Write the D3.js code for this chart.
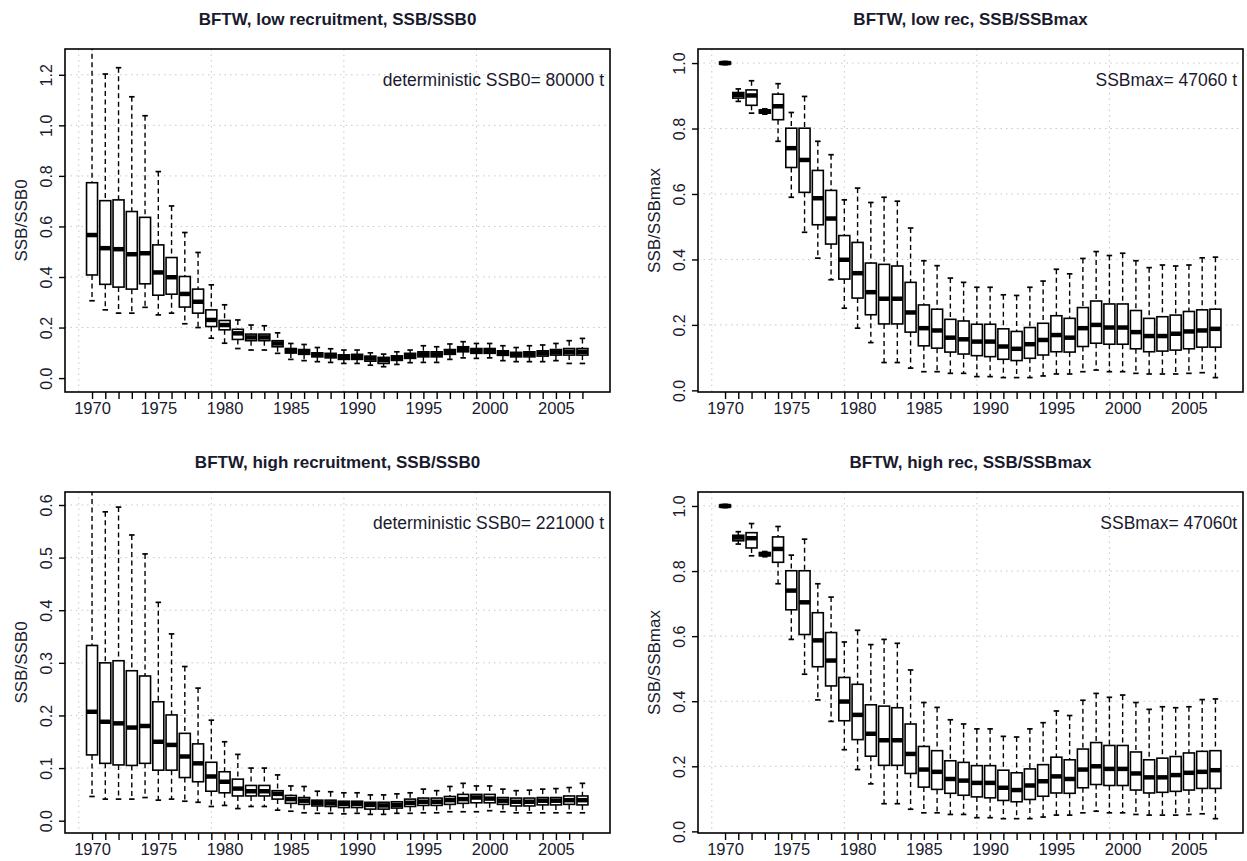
<!DOCTYPE html>
<html lang="en">
  <head>
    <meta charset="UTF-8" />
    <title>BFTW SSB boxplots</title>
    <style>
      body { margin: 0; background: #fff; }
      svg text { font-family: "Liberation Sans", Arial, sans-serif; fill: #1a1a2e; }
      .grid line { stroke: #c8c8c8; stroke-dasharray: 1.5,4; stroke-width: 1; }
      .axis path { display: none; }
      .axis line { stroke: #000; stroke-width: 1.4; }
    </style>
  </head>
  <body>
    <svg id="chart" width="1247" height="861"></svg>
  </body>
  <script src="https://cdn.jsdelivr.net/npm/d3@7"></script>
  <script>
    const years = d3.range(1970, 2008);

    // low recruitment, SSB/SSB0
    const lowB0Hi  = [1.35,1.203,1.228,1.113,1.038,0.817,0.681,0.576,0.497,0.369, 0.29,0.23,0.21,0.207,0.179,0.137,0.133,0.121,0.116,0.111, 0.111,0.1,0.095,0.104,0.111,0.128,0.124,0.135,0.144,0.137, 0.137,0.128,0.121,0.128,0.131,0.137,0.148,0.157];
    const lowB0Q3  = [0.773,0.702,0.705,0.659,0.636,0.527,0.477,0.402,0.352,0.27, 0.228,0.193,0.174,0.174,0.148,0.117,0.113,0.1,0.098,0.092, 0.094,0.087,0.082,0.088,0.098,0.104,0.104,0.113,0.124,0.117, 0.117,0.108,0.102,0.104,0.108,0.113,0.117,0.117];
    const lowB0Med = [0.566,0.514,0.51,0.49,0.494,0.418,0.399,0.333,0.302,0.23, 0.21,0.177,0.161,0.161,0.137,0.108,0.104,0.092,0.09,0.084, 0.084,0.078,0.071,0.079,0.088,0.094,0.094,0.103,0.115,0.108, 0.108,0.1,0.094,0.095,0.098,0.102,0.104,0.104];
    const lowB0Q1  = [0.408,0.371,0.36,0.352,0.373,0.328,0.332,0.281,0.257,0.204, 0.191,0.153,0.148,0.148,0.124,0.099,0.094,0.084,0.08,0.074, 0.074,0.067,0.058,0.07,0.078,0.084,0.084,0.094,0.104,0.098, 0.098,0.09,0.084,0.084,0.087,0.091,0.091,0.091];
    const lowB0Lo  = [0.306,0.27,0.257,0.257,0.28,0.25,0.257,0.215,0.2,0.158, 0.138,0.117,0.111,0.111,0.098,0.074,0.069,0.065,0.062,0.058, 0.058,0.051,0.045,0.054,0.061,0.062,0.062,0.074,0.08,0.078, 0.08,0.069,0.065,0.065,0.065,0.069,0.058,0.058];

    // SSB/SSBmax (same in low and high recruitment runs)
    const maxHi  = [1.005,0.921,0.946,0.86,0.937,0.849,0.898,0.761,0.72,0.582, 0.618,0.574,0.59,0.578,0.496,0.396,0.381,0.343,0.33,0.315, 0.315,0.292,0.29,0.315,0.334,0.37,0.356,0.403,0.424,0.412, 0.419,0.396,0.375,0.383,0.38,0.383,0.405,0.407];
    const maxQ3  = [1.003,0.91,0.918,0.857,0.905,0.801,0.801,0.672,0.611,0.473, 0.452,0.389,0.385,0.38,0.33,0.261,0.248,0.217,0.212,0.202, 0.202,0.188,0.18,0.192,0.205,0.228,0.22,0.253,0.273,0.264, 0.264,0.244,0.22,0.225,0.23,0.241,0.246,0.248];
    const maxMed = [1.0,0.903,0.901,0.852,0.868,0.74,0.704,0.587,0.525,0.399, 0.358,0.3,0.28,0.28,0.238,0.19,0.183,0.161,0.156,0.149, 0.149,0.134,0.127,0.141,0.154,0.169,0.161,0.19,0.2,0.192, 0.192,0.178,0.166,0.166,0.173,0.18,0.183,0.188];
    const maxQ1  = [0.997,0.893,0.871,0.847,0.827,0.681,0.605,0.506,0.447,0.34, 0.282,0.231,0.203,0.203,0.178,0.136,0.129,0.117,0.111,0.106, 0.103,0.095,0.091,0.098,0.108,0.118,0.117,0.134,0.144,0.141, 0.141,0.127,0.118,0.12,0.123,0.127,0.132,0.132];
    const maxLo  = [0.995,0.883,0.847,0.844,0.761,0.59,0.483,0.404,0.338,0.251, 0.19,0.146,0.085,0.085,0.068,0.057,0.057,0.052,0.052,0.042, 0.042,0.039,0.039,0.039,0.044,0.05,0.05,0.057,0.062,0.057, 0.057,0.052,0.05,0.05,0.05,0.052,0.054,0.039];

    // high recruitment, SSB/SSB0
    const highB0Hi  = [0.66,0.587,0.596,0.543,0.507,0.415,0.355,0.293,0.252,0.191, 0.15,0.126,0.1,0.1,0.087,0.066,0.065,0.056,0.055,0.053, 0.053,0.049,0.049,0.051,0.053,0.06,0.057,0.065,0.071,0.066, 0.066,0.06,0.057,0.058,0.06,0.061,0.063,0.071];
    const highB0Q3  = [0.333,0.3,0.304,0.285,0.275,0.226,0.201,0.166,0.146,0.111, 0.093,0.079,0.067,0.067,0.057,0.048,0.044,0.039,0.039,0.037, 0.037,0.035,0.035,0.036,0.041,0.043,0.043,0.046,0.05,0.05, 0.05,0.044,0.043,0.043,0.044,0.044,0.047,0.047];
    const highB0Med = [0.207,0.188,0.185,0.177,0.18,0.15,0.144,0.122,0.109,0.084, 0.074,0.061,0.056,0.056,0.051,0.041,0.038,0.034,0.033,0.032, 0.032,0.03,0.029,0.03,0.034,0.036,0.036,0.039,0.041,0.044, 0.042,0.038,0.036,0.036,0.038,0.038,0.039,0.039];
    const highB0Q1  = [0.125,0.109,0.106,0.105,0.109,0.096,0.096,0.082,0.074,0.056, 0.053,0.047,0.047,0.047,0.041,0.033,0.031,0.028,0.027,0.025, 0.025,0.022,0.022,0.024,0.027,0.029,0.029,0.031,0.033,0.034, 0.034,0.031,0.028,0.028,0.03,0.03,0.031,0.03];
    const highB0Lo  = [0.046,0.041,0.041,0.041,0.044,0.039,0.041,0.037,0.035,0.027, 0.029,0.023,0.027,0.027,0.02,0.018,0.015,0.014,0.014,0.013, 0.014,0.012,0.012,0.014,0.014,0.015,0.015,0.017,0.017,0.017, 0.019,0.017,0.015,0.015,0.015,0.015,0.015,0.015];

    const panels = [
      { title: "BFTW, low recruitment, SSB/SSB0", ylab: "SSB/SSB0", note: "deterministic SSB0= 80000 t",
        left: 65, right: 610, top: 49, bottom: 392, ydom: [-0.055, 1.302], yticks: d3.range(0, 1.21, 0.2),
        hi: lowB0Hi, q3: lowB0Q3, med: lowB0Med, q1: lowB0Q1, lo: lowB0Lo },
      { title: "BFTW, low rec, SSB/SSBmax", ylab: "SSB/SSBmax", note: "SSBmax= 47060 t",
        left: 698, right: 1243, top: 49, bottom: 392, ydom: [-0.005, 1.043], yticks: d3.range(0, 1.01, 0.2),
        hi: maxHi, q3: maxQ3, med: maxMed, q1: maxQ1, lo: maxLo },
      { title: "BFTW, high recruitment, SSB/SSB0", ylab: "SSB/SSB0", note: "deterministic SSB0= 221000 t",
        left: 65, right: 610, top: 492, bottom: 833, ydom: [-0.0234, 0.6247], yticks: d3.range(0, 0.61, 0.1),
        hi: highB0Hi, q3: highB0Q3, med: highB0Med, q1: highB0Q1, lo: highB0Lo },
      { title: "BFTW, high rec, SSB/SSBmax", ylab: "SSB/SSBmax", note: "SSBmax= 47060t",
        left: 698, right: 1243, top: 492, bottom: 833, ydom: [-0.005, 1.043], yticks: d3.range(0, 1.01, 0.2),
        hi: maxHi, q3: maxQ3, med: maxMed, q1: maxQ1, lo: maxLo }
    ];

    const svg = d3.select("#chart");

    panels.forEach((p, i) => {
      const x = d3.scaleLinear().domain([1967.96, 2009.08]).range([p.left, p.right]);
      const y = d3.scaleLinear().domain(p.ydom).range([p.bottom, p.top]);
      const bw = 11, sw = 5.5;
      const g = svg.append("g");

      g.append("clipPath").attr("id", "clip" + i)
        .append("rect").attr("x", p.left).attr("y", p.top)
        .attr("width", p.right - p.left).attr("height", p.bottom - p.top);

      // dotted grid
      const grid = g.append("g").attr("class", "grid");
      grid.selectAll(".gy").data(p.yticks.filter((v) => v > 0)).enter().append("line")
        .attr("x1", p.left).attr("x2", p.right)
        .attr("y1", (d) => y(d)).attr("y2", (d) => y(d));
      grid.selectAll(".gx").data([1969, 1979, 1989, 1999]).enter().append("line")
        .attr("y1", p.top).attr("y2", p.bottom)
        .attr("x1", (d) => x(d)).attr("x2", (d) => x(d));

      const rows = years.map((yr, k) => ({ yr, hi: p.hi[k], q3: p.q3[k], med: p.med[k], q1: p.q1[k], lo: p.lo[k] }));
      const boxes = g.append("g").attr("clip-path", "url(#clip" + i + ")")
        .selectAll("g").data(rows).enter().append("g");

      // whiskers
      boxes.append("line")
        .attr("x1", (d) => x(d.yr)).attr("x2", (d) => x(d.yr))
        .attr("y1", (d) => y(d.hi)).attr("y2", (d) => y(d.q3))
        .attr("stroke", "#000").attr("stroke-width", 1.4).attr("stroke-dasharray", "5,3.5");
      boxes.append("line")
        .attr("x1", (d) => x(d.yr)).attr("x2", (d) => x(d.yr))
        .attr("y1", (d) => y(d.q1)).attr("y2", (d) => y(d.lo))
        .attr("stroke", "#000").attr("stroke-width", 1.4).attr("stroke-dasharray", "5,3.5");
      // staples
      ["hi", "lo"].forEach((k) => {
        boxes.append("line")
          .attr("x1", (d) => x(d.yr) - sw / 2).attr("x2", (d) => x(d.yr) + sw / 2)
          .attr("y1", (d) => y(d[k])).attr("y2", (d) => y(d[k]))
          .attr("stroke", "#000").attr("stroke-width", 1.7);
      });
      // box
      boxes.append("rect")
        .attr("x", (d) => x(d.yr) - bw / 2).attr("width", bw)
        .attr("y", (d) => y(d.q3)).attr("height", (d) => y(d.q1) - y(d.q3))
        .attr("fill", "#fff").attr("stroke", "#000").attr("stroke-width", 1.6);
      // median
      boxes.append("line")
        .attr("x1", (d) => x(d.yr) - bw / 2).attr("x2", (d) => x(d.yr) + bw / 2)
        .attr("y1", (d) => y(d.med)).attr("y2", (d) => y(d.med))
        .attr("stroke", "#000").attr("stroke-width", 4.5);

      // frame
      g.append("rect").attr("x", p.left).attr("y", p.top)
        .attr("width", p.right - p.left).attr("height", p.bottom - p.top)
        .attr("fill", "none").attr("stroke", "#000").attr("stroke-width", 1.6);

      // axes
      const xAxis = d3.axisBottom(x).tickValues(years).tickSize(7).tickSizeOuter(0)
        .tickFormat((d) => (d % 5 === 0 ? d : ""));
      g.append("g").attr("class", "axis").attr("transform", "translate(0," + p.bottom + ")").call(xAxis)
        .selectAll("text").attr("y", 10).style("font-size", "16.5px");

      const yAxis = d3.axisLeft(y).tickValues(p.yticks).tickSize(6).tickSizeOuter(0).tickFormat(d3.format(".1f"));
      g.append("g").attr("class", "axis").attr("transform", "translate(" + p.left + ",0)").call(yAxis)
        .selectAll("text")
        .attr("transform", "rotate(-90)").attr("x", 0).attr("y", -13).attr("dy", 0)
        .attr("text-anchor", "middle").style("font-size", "16px");

      // labels
      g.append("text").attr("x", (p.left + p.right) / 2).attr("y", p.top - 24)
        .attr("text-anchor", "middle").style("font-size", "17px").style("font-weight", "bold")
        .text(p.title);
      g.append("text").attr("transform", "translate(" + (p.left - 38) + "," + (p.top + p.bottom) / 2 + ") rotate(-90)")
        .attr("text-anchor", "middle").style("font-size", "17px").text(p.ylab);
      g.append("text").attr("x", p.right - 6).attr("y", p.top + 37)
        .attr("text-anchor", "end").style("font-size", "17.5px").text(p.note);
    });
  </script>
</html>
